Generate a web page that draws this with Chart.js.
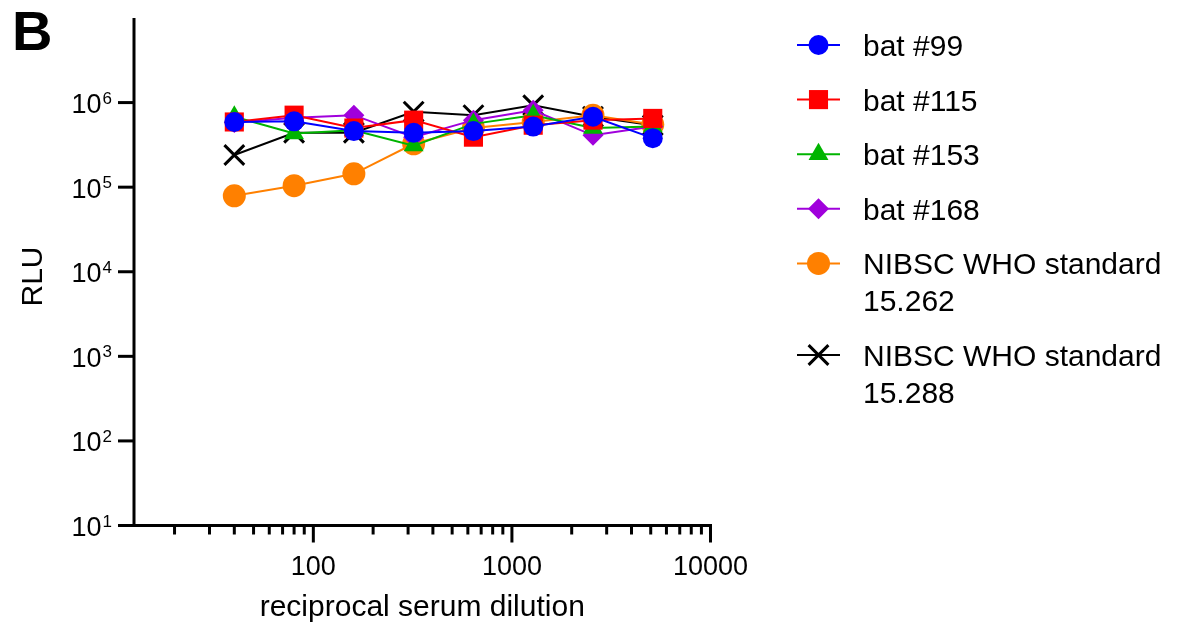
<!DOCTYPE html>
<html>
<head>
<meta charset="utf-8">
<script src="https://cdn.jsdelivr.net/npm/chart.js@4.4.1/dist/chart.umd.min.js"></script>
<style>
  html, body { margin: 0; padding: 0; background: #fff; }
  #wrap { width: 1179px; height: 630px; }
</style>
</head>
<body>
<div id="wrap"><canvas id="rluChart" width="1179" height="630"></canvas></div>
<script>
// reciprocal serum dilution (x) and RLU readings (y)
const dilutions = [40, 80, 160, 320, 640, 1280, 2560, 5120];
const bat99   = [590000, 600000, 460000, 440000, 460000, 520000, 680000, 380000];
const bat115  = [590000, 710000, 500000, 620000, 390000, 540000, 620000, 650000];
const bat153  = [680000, 430000, 470000, 310000, 560000, 710000, 500000, 520000];
const bat168  = [580000, 660000, 710000, 390000, 620000, 810000, 410000, 520000];
const nibsc262 = [79000, 104000, 144000, 326000, 500000, 590000, 710000, 550000];
const nibsc288 = [240000, 440000, 440000, 780000, 710000, 930000, 680000, 540000];

const seriesNames = ['bat #99', 'bat #115', 'bat #153', 'bat #168',
    'NIBSC WHO standard 15.262', 'NIBSC WHO standard 15.288'];

// axis ticks
const yTickExponents = [1, 2, 3, 4, 5, 6];
const xMajorTicks = [100, 1000, 10000];
const xMinorTicks = [20, 30, 40, 50, 60, 70, 80, 90,
    200, 300, 400, 500, 600, 700, 800, 900,
    2000, 3000, 4000, 5000, 6000, 7000, 8000, 9000];

const FONT = '"Liberation Sans", Arial, Helvetica, sans-serif';

function toPoints(values) {
    return dilutions.map((d, i) => ({ x: d, y: values[i] }));
}

function series(idx, values, color, style, radius, pointBorder) {
    return {
        label: seriesNames[idx],
        data: toPoints(values),
        borderColor: color,
        backgroundColor: color,
        borderWidth: 2,
        pointStyle: style,
        pointRadius: radius,
        pointHoverRadius: radius,
        pointBackgroundColor: color,
        pointBorderColor: color,
        pointBorderWidth: pointBorder,
        tension: 0,
        clip: false
    };
}

function line(ctx, x1, y1, x2, y2) {
    ctx.beginPath();
    ctx.moveTo(x1, y1);
    ctx.lineTo(x2, y2);
    ctx.stroke();
}

// axes drawn the GraphPad way: ticks outside, superscript powers on y
const axesPlugin = {
    id: 'prismAxes',
    beforeDatasetsDraw(chart) {
        const { ctx, chartArea: a, scales: { x, y } } = chart;
        ctx.save();
        ctx.strokeStyle = '#000';
        ctx.fillStyle = '#000';
        ctx.lineWidth = 3;

        line(ctx, a.left, a.top, a.left, a.bottom + 1.5);
        line(ctx, a.left - 1.5, a.bottom, a.right + 1.5, a.bottom);

        // y ticks + labels 10^n
        yTickExponents.forEach(e => {
            const py = y.getPixelForValue(Math.pow(10, e));
            line(ctx, a.left - 16, py, a.left, py);
            ctx.textAlign = 'right';
            ctx.textBaseline = 'alphabetic';
            ctx.font = '17px ' + FONT;
            const sup = String(e);
            const supW = ctx.measureText(sup).width;
            ctx.fillText(sup, a.left - 22, py + 1);
            ctx.font = '27px ' + FONT;
            ctx.fillText('10', a.left - 22 - supW - 1, py + 10.5);
        });

        // x ticks
        xMinorTicks.forEach(v => {
            const px = x.getPixelForValue(v);
            line(ctx, px, a.bottom, px, a.bottom + 9);
        });
        ctx.font = '27px ' + FONT;
        ctx.textAlign = 'center';
        xMajorTicks.forEach(v => {
            const px = x.getPixelForValue(v);
            line(ctx, px, a.bottom, px, a.bottom + 17);
            ctx.fillText(String(v), px, a.bottom + 49.5);
        });

        // axis titles
        ctx.font = '30px ' + FONT;
        ctx.fillText('reciprocal serum dilution', (a.left + a.right) / 2, 616);
        ctx.save();
        ctx.translate(41.5, 276.5);
        ctx.rotate(-Math.PI / 2);
        ctx.fillText('RLU', 0, 0);
        ctx.restore();

        // panel letter
        ctx.textAlign = 'left';
        ctx.font = 'bold 56px ' + FONT;
        ctx.fillText('B', 12, 50);
        ctx.restore();
    }
};

function drawMarker(ctx, ds, cx, cy) {
    const opts = {
        pointStyle: ds.pointStyle,
        radius: ds.pointRadius,
        borderWidth: ds.pointBorderWidth,
        rotation: 0
    };
    ctx.fillStyle = ds.pointBackgroundColor;
    ctx.strokeStyle = ds.pointBorderColor;
    ctx.lineWidth = ds.pointBorderWidth;
    Chart.helpers.drawPoint(ctx, opts, cx, cy);
}

// legend on the right, long names wrap after "standard"
const legendPlugin = {
    id: 'sideLegend',
    afterDraw(chart) {
        const ctx = chart.ctx;
        ctx.save();
        let rowY = 45;
        chart.data.datasets.forEach(ds => {
            const name = ds.label;
            const lines = name.startsWith('NIBSC')
                ? [name.slice(0, name.lastIndexOf(' ')), name.slice(name.lastIndexOf(' ') + 1)]
                : [name];
            ctx.strokeStyle = ds.borderColor;
            ctx.lineWidth = 2;
            line(ctx, 797, rowY, 840, rowY);
            drawMarker(ctx, ds, 818.5, rowY);
            ctx.fillStyle = '#000';
            ctx.font = '30px ' + FONT;
            ctx.textAlign = 'left';
            ctx.textBaseline = 'alphabetic';
            lines.forEach((t, i) => ctx.fillText(t, 863, rowY + 11 + i * 37));
            rowY += 54.6 + (lines.length - 1) * 37;
        });
        ctx.restore();
    }
};

new Chart(document.getElementById('rluChart').getContext('2d'), {
    type: 'line',
    data: {
        datasets: [
            series(0, bat99, '#0000ff', 'circle', 10, 0),
            series(1, bat115, '#ff0000', 'rect', 13.5, 0),
            series(2, bat153, '#00b400', 'triangle', 11.5, 0),
            series(3, bat168, '#a000dc', 'rectRot', 10.5, 0),
            series(4, nibsc262, '#ff8000', 'circle', 11.5, 0),
            series(5, nibsc288, '#000000', 'crossRot', 14, 3)
        ]
    },
    options: {
        responsive: false,
        animation: false,
        devicePixelRatio: 1,
        layout: {
            padding: { left: 134, right: 468.5, top: 18, bottom: 104.5 }
        },
        scales: {
            x: { type: 'logarithmic', min: 12.5, max: 10000, display: false },
            y: { type: 'logarithmic', min: 10, max: 10000000, display: false }
        },
        plugins: {
            legend: { display: false },
            tooltip: { enabled: false }
        }
    },
    plugins: [axesPlugin, legendPlugin]
});
</script>
</body>
</html>
